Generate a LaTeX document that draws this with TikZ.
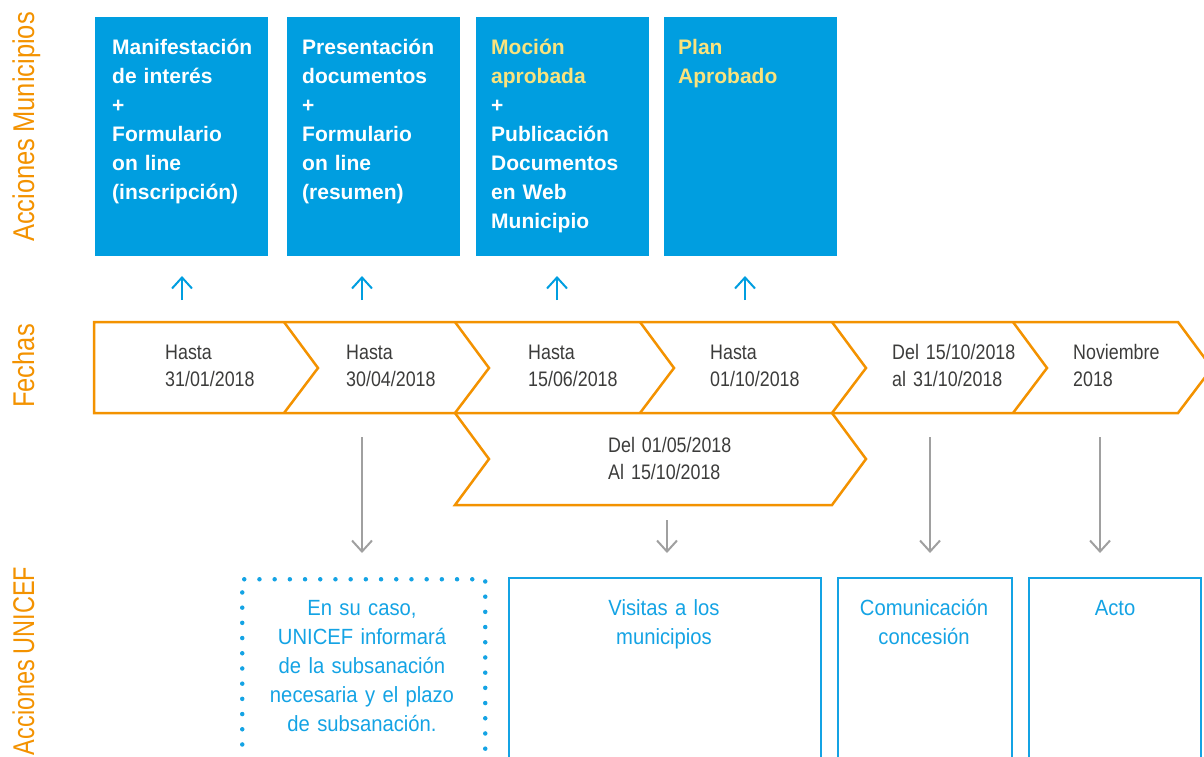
\documentclass[tikz,border=0pt]{standalone}
\usepackage{fontspec}
\setmainfont{Liberation Sans}
\newfontfamily\condfont[FakeStretch=0.85,WordSpace=0.85]{Liberation Sans}
\newfontfamily\ufont[FakeStretch=0.92,WordSpace=0.85]{Liberation Sans}
\usetikzlibrary{arrows.meta}
\definecolor{munblue}{RGB}{0,158,224}
\definecolor{uniblue}{RGB}{20,163,228}
\definecolor{orng}{RGB}{243,146,0}
\definecolor{ylw}{RGB}{250,227,125}
\definecolor{arrgray}{RGB}{160,160,160}
\definecolor{dtxt}{RGB}{60,60,59}
\begin{document}
\begin{tikzpicture}[x=1pt,y=-1pt,
  mbox/.style={fill=munblue,draw=none,anchor=north west,minimum width=173,minimum height=239,inner sep=0},
  mtext/.style={anchor=base west,inner sep=0,text width=165,align=left,text=white,font=\bfseries\fontsize{21}{29}\selectfont},
  dtext/.style={anchor=base west,inner sep=0,text width=150,align=left,text=dtxt,font=\condfont\fontsize{21}{27}\selectfont},
  utext/.style={anchor=base,inner sep=0,text width=230,align=center,text=uniblue,font=\ufont\fontsize{22}{29}\selectfont},
  rowlabel/.style={anchor=base,rotate=90,inner sep=0,text=orng,font=\condfont\fontsize{30}{30}\selectfont},
  chev/.style={draw=orng,line width=2.5pt},
  uparr/.style={draw=munblue,line width=2pt,-{Straight Barb[length=11pt,width=20pt,line width=2pt]}},
  dnarr/.style={draw=arrgray,line width=2pt,-{Straight Barb[length=11pt,width=20pt,line width=2pt]}},
  ubox/.style={draw=uniblue,line width=1.5pt,anchor=north west,minimum height=200,inner sep=0},
  dotbox/.style={draw=uniblue,line width=4.5pt,line cap=round,dash pattern=on 0pt off 15.2pt,anchor=north west,minimum width=243,minimum height=200,inner sep=0}
]
\useasboundingbox (0,0) rectangle (1204,756);

% row labels
\node[rowlabel] (lm) at (34,127) {Acciones Municipios};
\node[rowlabel] (lf) at (34,366) {Fechas};
\node[rowlabel] (lu) at (34,661) {\scalebox{0.92}[1]{Acciones UNICEF}};

% municipal boxes
\node[mbox] (m1) at (95,17) {};
\node[mbox] (m2) at (287,17) {};
\node[mbox] (m3) at (476,17) {};
\node[mbox] (m4) at (664,17) {};
\node[mtext] (t1) at (112,54) {Manifestación\\de interés\\+\\Formulario\\on line\\(inscripción)};
\node[mtext] (t2) at (302,54) {Presentación\\documentos\\+\\Formulario\\on line\\(resumen)};
\node[mtext] (t3) at (491,54) {\textcolor{ylw}{Moción}\\\textcolor{ylw}{aprobada}\\+\\Publicación\\Documentos\\en Web\\Municipio};
\node[mtext] (t4) at (678,54) {\textcolor{ylw}{Plan}\\\textcolor{ylw}{Aprobado}};

% up arrows
\coordinate (ua1) at (182,300); \coordinate (ub1) at (182,276);
\coordinate (ua2) at (362,300); \coordinate (ub2) at (362,276);
\coordinate (ua3) at (557,300); \coordinate (ub3) at (557,276);
\coordinate (ua4) at (745,300); \coordinate (ub4) at (745,276);
\draw[uparr] (ua1) -- (ub1);
\draw[uparr] (ua2) -- (ub2);
\draw[uparr] (ua3) -- (ub3);
\draw[uparr] (ua4) -- (ub4);

% chevron row
\draw[chev] (94,322) -- (1178,322) -- (1212,368) -- (1178,413) -- (94,413) -- cycle;
\foreach \b in {284,455,640,832,1013}{
  \draw[chev] (\b,322) -- (\b+34,368) -- (\b,413);
}
\draw[chev] (455,413) -- (489,459) -- (455,505) -- (832,505) -- (866,459) -- (832,413);

\node[dtext] (d1) at (165,359) {Hasta\\31/01/2018};
\node[dtext] (d2) at (346,359) {Hasta\\30/04/2018};
\node[dtext] (d3) at (528,359) {Hasta\\15/06/2018};
\node[dtext] (d4) at (710,359) {Hasta\\01/10/2018};
\node[dtext] (d5) at (892,359) {Del 15/10/2018\\al 31/10/2018};
\node[dtext] (d6) at (1073,359) {Noviembre\\2018};
\node[dtext] (d7) at (608,452) {Del 01/05/2018\\Al 15/10/2018};

% down arrows
\coordinate (da1) at (362,437); \coordinate (db1) at (362,553);
\coordinate (da2) at (667,520); \coordinate (db2) at (667,553);
\coordinate (da3) at (930,437); \coordinate (db3) at (930,553);
\coordinate (da4) at (1100,437); \coordinate (db4) at (1100,553);
\draw[dnarr] (da1) -- (db1);
\draw[dnarr] (da2) -- (db2);
\draw[dnarr] (da3) -- (db3);
\draw[dnarr] (da4) -- (db4);

% UNICEF boxes
\node[dotbox] (u1) at (240,577) {};
\node[ubox,minimum width=312] (u2) at (508,577) {};
\node[ubox,minimum width=174] (u3) at (837,577) {};
\node[ubox,minimum width=172] (u4) at (1028,577) {};
\node[utext] (x1) at (362,615) {En su caso,\\UNICEF informará\\de la subsanación\\necesaria y el plazo\\de subsanación.};
\node[utext] (x2) at (664,615) {Visitas a los\\municipios};
\node[utext] (x3) at (924,615) {Comunicación\\concesión};
\node[utext] (x4) at (1115,615) {Acto};
\end{tikzpicture}
\end{document}
